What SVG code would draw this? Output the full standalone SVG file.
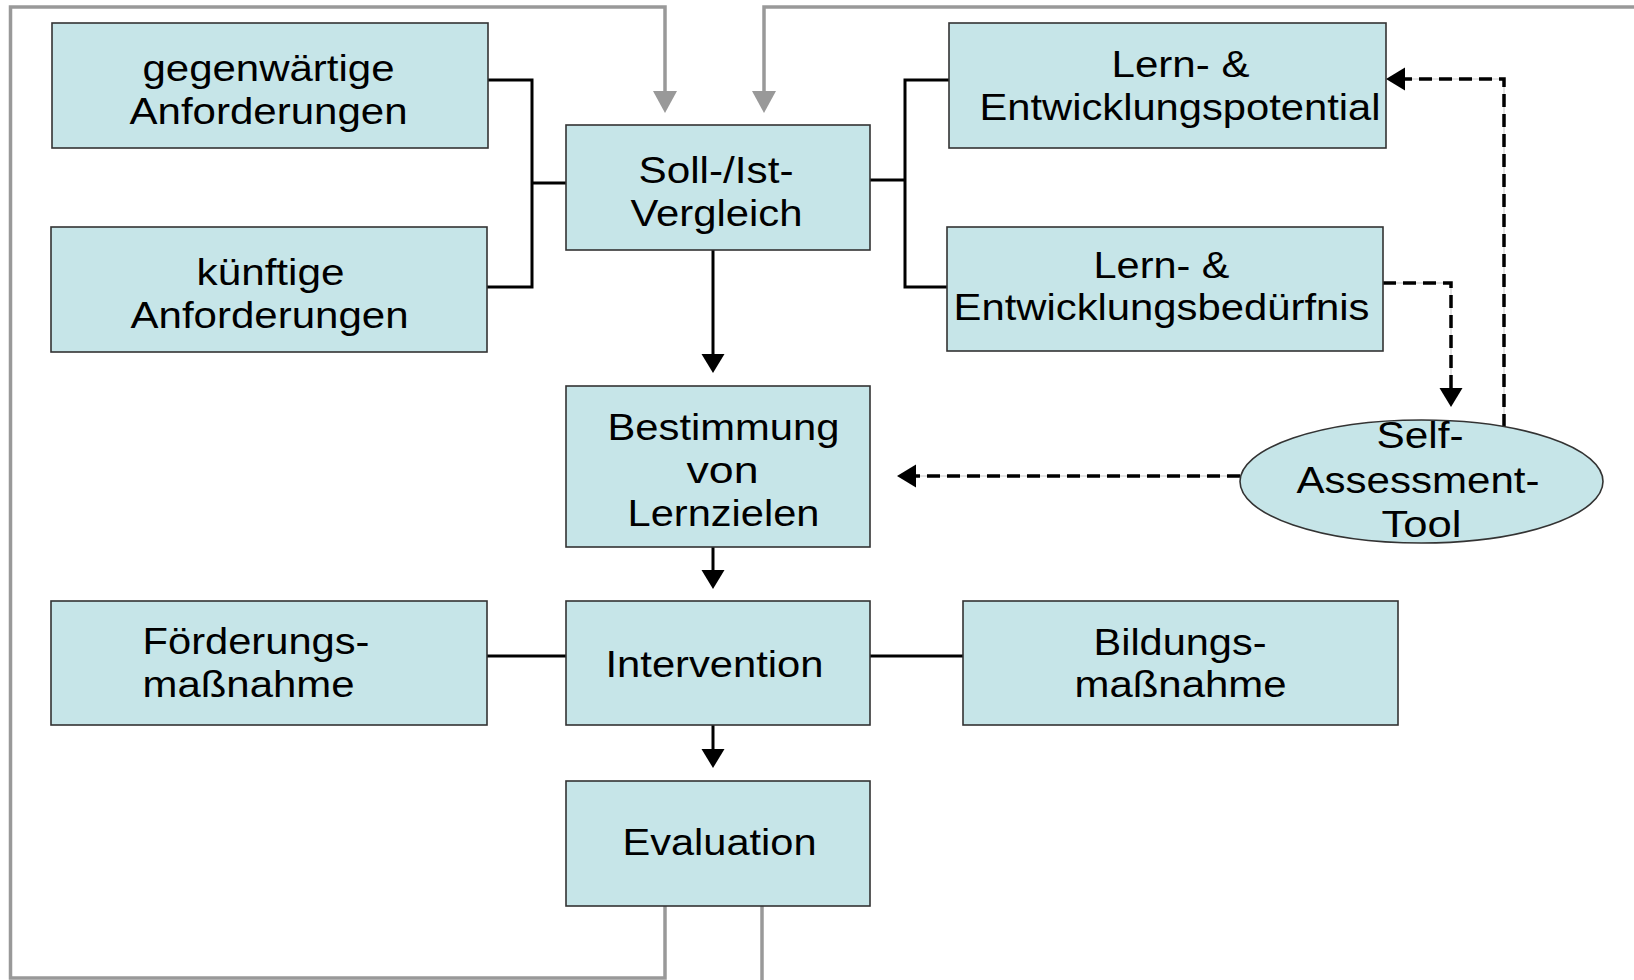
<svg xmlns="http://www.w3.org/2000/svg" width="1634" height="980" viewBox="0 0 1634 980">
<defs>
<style>
.box{fill:#c6e5e8;stroke:#333;stroke-width:1.6}
.t{font-family:"Liberation Sans",Arial,Helvetica,sans-serif;font-size:36px;fill:#000}
.ln{fill:none;stroke:#000;stroke-width:3}
.gray{fill:none;stroke:#999;stroke-width:3.5}
.dash{fill:none;stroke:#000;stroke-width:3.5;stroke-dasharray:13 7}
.dashbg{fill:none;stroke:#c8c8c8;stroke-width:1}
</style>
<marker id="ab" markerUnits="userSpaceOnUse" markerWidth="20" markerHeight="24" refX="0" refY="11.5" orient="auto" overflow="visible"><path d="M0,0 L19,11.5 L0,23 z" fill="#000"/></marker>
<marker id="ag" markerUnits="userSpaceOnUse" markerWidth="23" markerHeight="25" refX="0" refY="12" orient="auto" overflow="visible"><path d="M0,0 L22,12 L0,24 z" fill="#999"/></marker>
</defs>
<rect width="1634" height="980" fill="#fff"/>
<g id="connectors">
<path class="gray" d="M665,906 V978 H10.5 V7 H665 V91" marker-end="url(#ag)"/>
<path class="gray" d="M1634,7 H764 V91" marker-end="url(#ag)"/>
<path class="gray" d="M762,906 V980"/>
<path class="ln" d="M488,80 H532 V287 H487 M532,183 H566"/>
<path class="ln" d="M870,180 H905 M949,80 H905 V287 H947"/>
<path class="ln" d="M713,250 V354" marker-end="url(#ab)"/>
<path class="ln" d="M713,547 V570" marker-end="url(#ab)"/>
<path class="ln" d="M713,725 V749" marker-end="url(#ab)"/>
<path class="ln" d="M487,656 H566"/>
<path class="ln" d="M870,656 H963"/>
<path class="dashbg" d="M1383,283 H1451 V388 M1504,427 V79 H1405 M1240,476 H916"/>
<path class="dash" d="M1383,283 H1451 V388" marker-end="url(#ab)"/>
<path class="dash" d="M1504,427 V79 H1405" marker-end="url(#ab)"/>
<path class="dash" d="M1240,476 H916" marker-end="url(#ab)"/>
</g>
<g id="node-gegenwaertig">
<rect class="box" x="52" y="23" width="436" height="125"/>
<text class="t" x="142.5" y="81" textLength="252" lengthAdjust="spacingAndGlyphs">gegenwärtige</text>
<text class="t" x="129.5" y="124" textLength="278" lengthAdjust="spacingAndGlyphs">Anforderungen</text>
</g>
<g id="node-kuenftig">
<rect class="box" x="51" y="227" width="436" height="125"/>
<text class="t" x="196.5" y="285" textLength="148" lengthAdjust="spacingAndGlyphs">künftige</text>
<text class="t" x="130.5" y="328" textLength="278" lengthAdjust="spacingAndGlyphs">Anforderungen</text>
</g>
<g id="node-soll-ist">
<rect class="box" x="566" y="125" width="304" height="125"/>
<text class="t" x="638.5" y="183" textLength="155" lengthAdjust="spacingAndGlyphs">Soll-/Ist-</text>
<text class="t" x="630.5" y="226" textLength="172" lengthAdjust="spacingAndGlyphs">Vergleich</text>
</g>
<g id="node-potential">
<rect class="box" x="949" y="23" width="437" height="125"/>
<text class="t" x="1111.5" y="77" textLength="138" lengthAdjust="spacingAndGlyphs">Lern- &amp;</text>
<text class="t" x="979.5" y="120" textLength="401" lengthAdjust="spacingAndGlyphs">Entwicklungspotential</text>
</g>
<g id="node-beduerfnis">
<rect class="box" x="947" y="227" width="436" height="124"/>
<text class="t" x="1093.5" y="278" textLength="136" lengthAdjust="spacingAndGlyphs">Lern- &amp;</text>
<text class="t" x="953.5" y="320" textLength="416" lengthAdjust="spacingAndGlyphs">Entwicklungsbedürfnis</text>
</g>
<g id="node-bestimmung">
<rect class="box" x="566" y="386" width="304" height="161"/>
<text class="t" x="607.5" y="440" textLength="232" lengthAdjust="spacingAndGlyphs">Bestimmung</text>
<text class="t" x="686.5" y="483" textLength="72" lengthAdjust="spacingAndGlyphs">von</text>
<text class="t" x="627.5" y="526" textLength="192" lengthAdjust="spacingAndGlyphs">Lernzielen</text>
</g>
<g id="node-self-assessment">
<ellipse class="box" cx="1421.5" cy="481.5" rx="181.5" ry="61.5"/>
<text class="t" x="1376.5" y="448" textLength="87" lengthAdjust="spacingAndGlyphs">Self-</text>
<text class="t" x="1296.5" y="493" textLength="243" lengthAdjust="spacingAndGlyphs">Assessment-</text>
<text class="t" x="1381.5" y="537" textLength="80" lengthAdjust="spacingAndGlyphs">Tool</text>
</g>
<g id="node-foerderung">
<rect class="box" x="51" y="601" width="436" height="124"/>
<text class="t" x="142.5" y="654" textLength="227" lengthAdjust="spacingAndGlyphs">Förderungs-</text>
<text class="t" x="142.5" y="697" textLength="212" lengthAdjust="spacingAndGlyphs">maßnahme</text>
</g>
<g id="node-intervention">
<rect class="box" x="566" y="601" width="304" height="124"/>
<text class="t" x="605.5" y="677" textLength="218" lengthAdjust="spacingAndGlyphs">Intervention</text>
</g>
<g id="node-bildung">
<rect class="box" x="963" y="601" width="435" height="124"/>
<text class="t" x="1093.5" y="655" textLength="173" lengthAdjust="spacingAndGlyphs">Bildungs-</text>
<text class="t" x="1074.5" y="697" textLength="212" lengthAdjust="spacingAndGlyphs">maßnahme</text>
</g>
<g id="node-evaluation">
<rect class="box" x="566" y="781" width="304" height="125"/>
<text class="t" x="622.5" y="855" textLength="194" lengthAdjust="spacingAndGlyphs">Evaluation</text>
</g>
</svg>
